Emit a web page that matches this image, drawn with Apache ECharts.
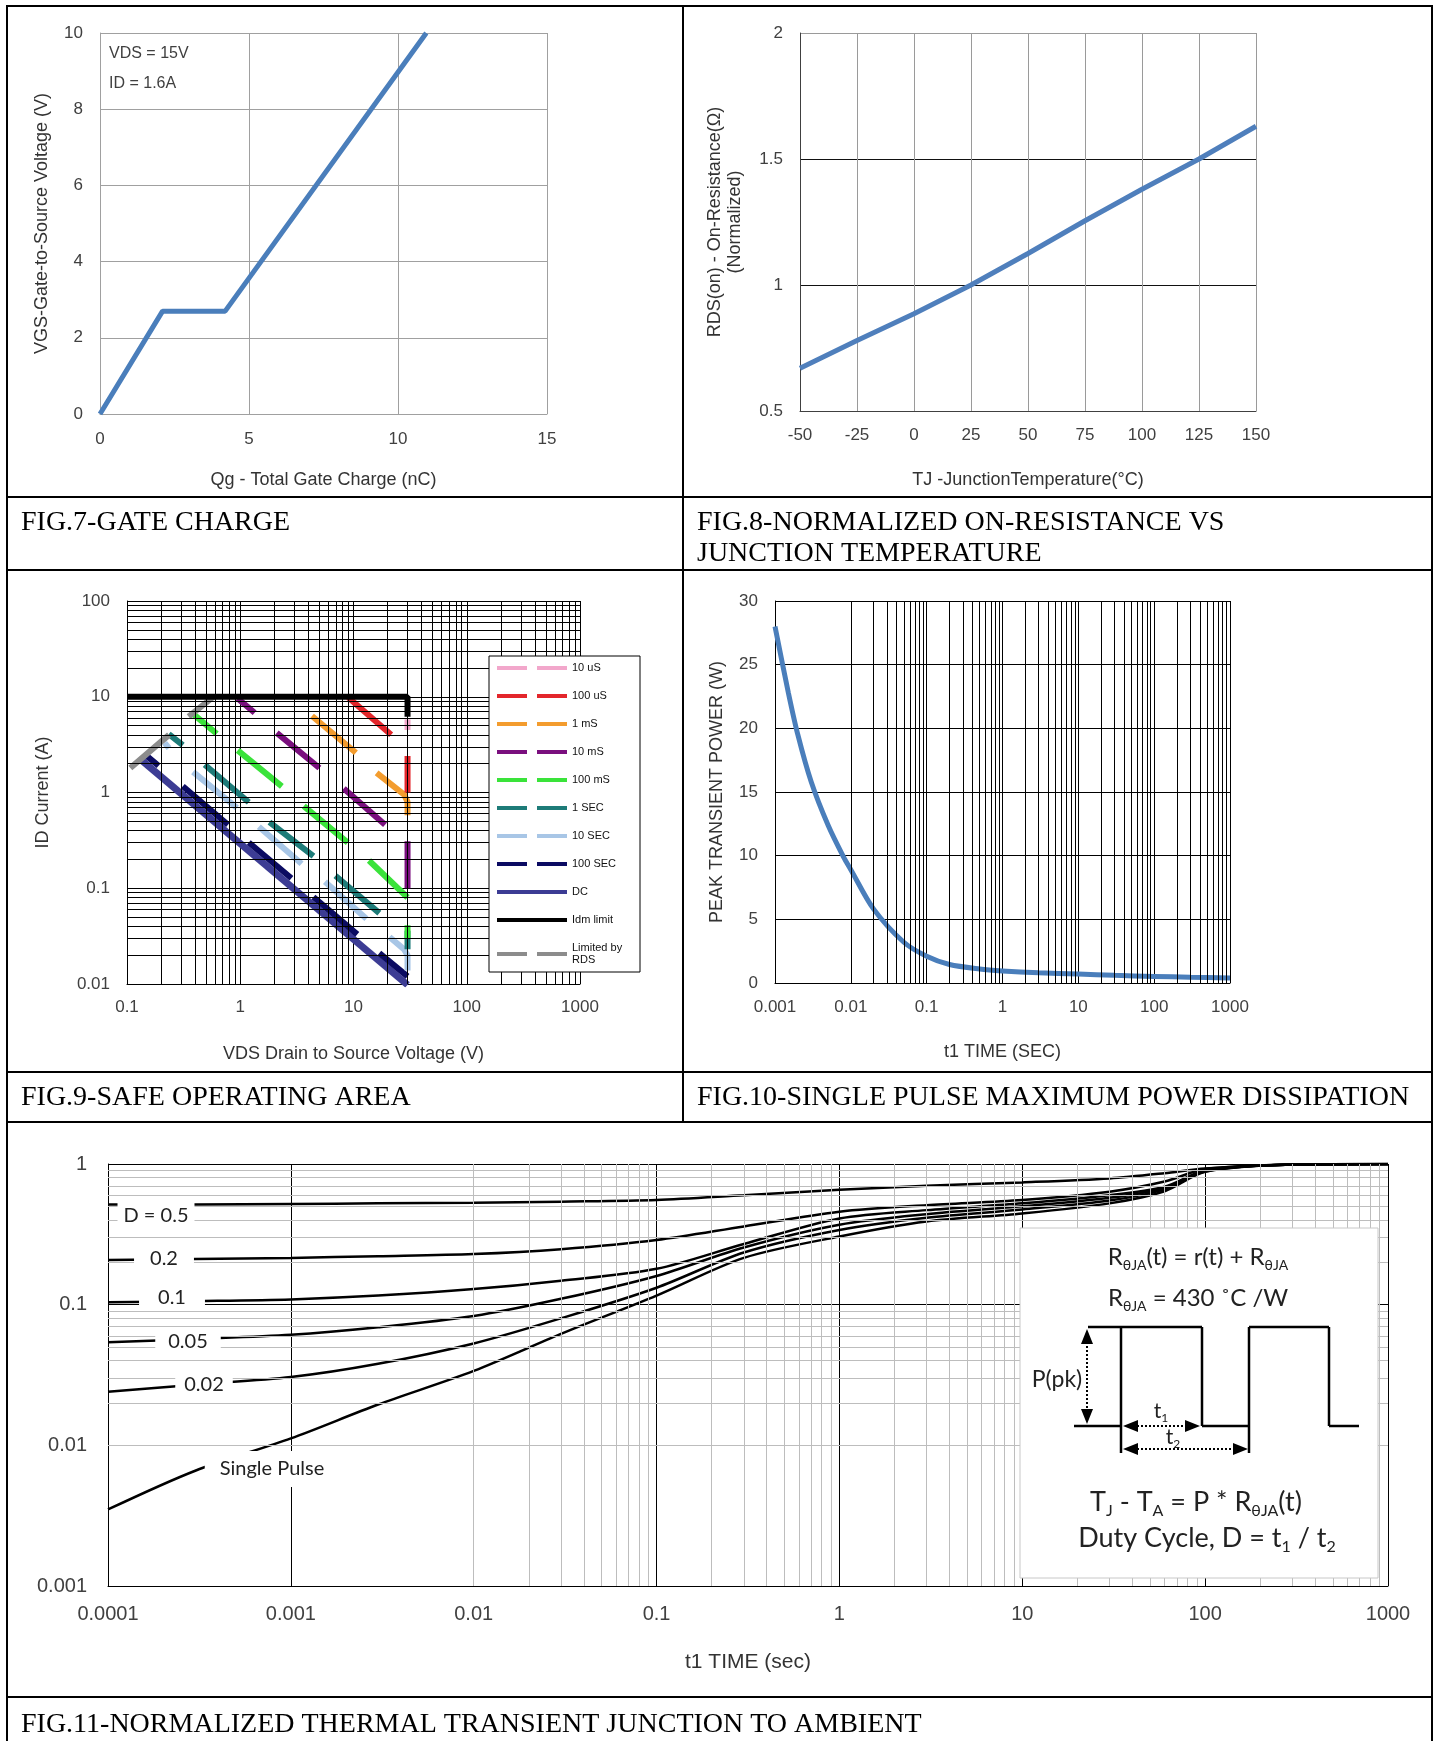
<!DOCTYPE html>
<html>
<head>
<meta charset="utf-8">
<title>Typical Characteristics</title>
<script src="https://cdn.jsdelivr.net/npm/echarts@6/dist/echarts.min.js"></script>
<style>
html, body { margin: 0; padding: 0; background: #fff; }
#chart { width: 1437px; height: 1741px; }
</style>
</head>
<body>
<div id="chart"></div>
<script>
const SANS = '"Liberation Sans", Arial, sans-serif';
const SERIF = '"Liberation Serif", "Times New Roman", serif';
const CAL = 'Lato, "Open Sans", sans-serif';

// FIG.7 gate charge
const gateCharge = [0, 2.1, 4.2, 10.95];
const gateVoltage = [0, 2.7, 2.7, 10];

// FIG.8 normalized on-resistance
const junctionTemp = [-50, -25, 0, 25, 50, 75, 100, 125, 150];
const rdsOnNorm = [0.67, 0.78, 0.886, 1.0, 1.125, 1.255, 1.38, 1.5, 1.63];

// FIG.9 safe operating area, every curve is a list of dashes of [VDS, ID]
const soa10us = [[[30, 5.8], [30, 4.5]]];
const soa100us = [[[9, 9.8], [21.5, 4]], [[30, 2.4], [30, 1.0]]];
const soa1ms = [[[4.3, 6.3], [10.5, 2.6]], [[16, 1.6], [28, 0.95], [30, 0.8], [30, 0.58]]];
const soa10ms = [[[0.95, 9.6], [1.34, 6.8]], [[2.1, 4.2], [5, 1.8]], [[8.2, 1.1], [19, 0.46]], [[30, 0.31], [30, 0.1]]];
const soa100ms = [[[0.39, 6.5], [0.62, 4.1]], [[0.95, 2.75], [2.33, 1.16]], [[3.64, 0.72], [8.9, 0.3]], [[13.7, 0.195], [30, 0.08]], [[30, 0.041], [30, 0.03]]];
const soa1s = [[[0.234, 4.06], [0.311, 3.13]], [[0.486, 1.95], [1.19, 0.79]], [[1.81, 0.49], [4.43, 0.217]], [[6.93, 0.135], [16.9, 0.055]], [[30, 0.036], [30, 0.023]]];
const soa10s = [[[0.215, 3.3], [0.235, 2.9]], [[0.383, 1.64], [0.935, 0.69]], [[1.46, 0.44], [3.48, 0.18]], [[5.6, 0.117], [13, 0.048]], [[20.8, 0.031], [28, 0.023], [30, 0.02], [30, 0.0138]]];
const soa100s = [[[0.15, 2.4], [0.19, 1.9]], [[0.311, 1.16], [0.78, 0.46]], [[1.19, 0.3], [2.83, 0.127]], [[4.43, 0.081], [10.8, 0.033]], [[16.9, 0.021], [30, 0.012]]];
const soaDc = [[[0.133, 2.2], [30, 0.0098]]];
const soaIdm = [[[0.1, 10], [30, 10], [30, 6.2]]];
const soaRds = [[[0.107, 1.8], [0.235, 4.0]], [[0.35, 6.2], [0.58, 10]]];

const soaNames = ['10 uS', '100 uS', '1 mS', '10 mS', '100 mS', '1 SEC', '10 SEC', '100 SEC', 'DC', 'Idm limit', 'Limited by RDS'];
const soaColors = ['#f2a7cb', '#e3262b', '#f39c2e', '#7a0f7e', '#3ae33a', '#1d7b78', '#a8c6e6', '#0b0b62', '#3c3c94', '#000000', '#8c8c8c'];
const soaCurves = [soa10us, soa100us, soa1ms, soa10ms, soa100ms, soa1s, soa10s, soa100s, soaDc, soaIdm, soaRds];
const soaDrawOrder = [8, 7, 6, 5, 4, 3, 2, 1, 0, 10, 9];

// FIG.10 single pulse power
const pulseTime = [0.001, 0.0015, 0.002, 0.003, 0.005, 0.008, 0.01, 0.02, 0.05, 0.1, 0.2, 0.5, 1, 3, 10, 30, 100, 300, 1000];
const pulsePower = [28, 22.8, 19.5, 15.8, 12.4, 9.9, 8.9, 5.8, 3.2, 2.1, 1.45, 1.1, 0.95, 0.8, 0.7, 0.6, 0.52, 0.45, 0.4];

// FIG.11 normalized thermal transient
const zthTime = [0.0001, 0.0003, 0.001, 0.003, 0.01, 0.03, 0.1, 0.3, 1, 3, 10, 30, 60, 100, 300, 1000];
const zthD05 = [0.515, 0.515, 0.52, 0.525, 0.53, 0.54, 0.555, 0.6, 0.655, 0.7, 0.74, 0.79, 0.86, 0.93, 0.99, 1.0];
const zthD02 = [0.208, 0.211, 0.215, 0.221, 0.229, 0.248, 0.288, 0.36, 0.458, 0.51, 0.555, 0.635, 0.75, 0.92, 0.99, 1.0];
const zthD01 = [0.104, 0.106, 0.109, 0.116, 0.129, 0.148, 0.18, 0.27, 0.41, 0.47, 0.525, 0.6, 0.69, 0.9, 0.99, 1.0];
const zthD005 = [0.054, 0.057, 0.061, 0.069, 0.083, 0.11, 0.16, 0.255, 0.37, 0.44, 0.5, 0.575, 0.675, 0.89, 0.99, 1.0];
const zthD002 = [0.024, 0.027, 0.0306, 0.038, 0.053, 0.08, 0.132, 0.235, 0.34, 0.415, 0.475, 0.55, 0.66, 0.885, 0.99, 1.0];
const zthSingle = [0.0035, 0.0066, 0.0112, 0.0195, 0.0338, 0.062, 0.116, 0.215, 0.305, 0.39, 0.445, 0.525, 0.64, 0.88, 0.99, 1.0];

function pairs(xs, ys) {
  return xs.map(function (x, i) { return [x, ys[i]]; });
}
function dashes(segs) {
  const out = [];
  segs.forEach(function (s, i) {
    if (i > 0) out.push(['-', '-']);
    s.forEach(function (p) { out.push(p); });
  });
  return out;
}
// 2..9 lines inside each decade
function minors(e0, e1) {
  const v = [];
  for (let e = e0; e < e1; e++) {
    for (let m = 2; m <= 9; m++) v.push(+(m * Math.pow(10, e)).toPrecision(3));
  }
  return v;
}
function logLabel(v) {
  return String(+(+v).toPrecision(3));
}
function gridLines(idx, xs, ys, color, corner) {
  return {
    type: 'line', xAxisIndex: idx, yAxisIndex: idx, data: [corner], symbol: 'none',
    silent: true, z: 1,
    markLine: {
      silent: true, symbol: ['none', 'none'], label: { show: false }, animation: false,
      emphasis: { disabled: true },
      lineStyle: { color: color, width: 1, type: 'solid' },
      data: xs.map(function (v) { return { xAxis: v }; }).concat(ys.map(function (v) { return { yAxis: v }; }))
    }
  };
}
function axis(o) {
  const a = {
    gridIndex: o.grid, type: o.log ? 'log' : 'value', min: o.min, max: o.max,
    name: o.name || '', nameLocation: 'middle', nameGap: o.nameGap || 0, nameRotate: o.rotate || 0,
    nameMoveOverlap: false,
    nameTextStyle: { fontFamily: SANS, fontSize: o.nameSize || 18, color: '#333', lineHeight: 20 },
    axisLine: { show: true, onZero: false, lineStyle: { color: o.axisColor, width: 1 } },
    axisTick: { show: false },
    axisLabel: { fontFamily: SANS, fontSize: o.labelSize || 17, color: '#404040', margin: o.margin || 16, showMinLabel: true, showMaxLabel: true },
    splitLine: { show: true, lineStyle: { color: o.splitColor, width: 1 } }
  };
  if (o.log) { a.logBase = 10; a.axisLabel.formatter = logLabel; }
  if (o.interval) a.interval = o.interval;
  return a;
}

const chart = echarts.init(document.getElementById('chart'));

const series = [];
// FIG.7
series.push({
  type: 'line', xAxisIndex: 0, yAxisIndex: 0, data: pairs(gateCharge, gateVoltage),
  symbol: 'none', lineStyle: { color: '#4a7ebb', width: 5 }, z: 3
});
// FIG.8
series.push({
  type: 'line', xAxisIndex: 1, yAxisIndex: 1, data: pairs(junctionTemp, rdsOnNorm),
  symbol: 'none', lineStyle: { color: '#4f7fbc', width: 5 }, z: 3
});
// FIG.9
series.push(gridLines(2, minors(-1, 3), minors(-2, 2), '#000', [0.1, 0.01]));
soaDrawOrder.forEach(function (i) {
  series.push({
    name: soaNames[i], type: 'line', xAxisIndex: 2, yAxisIndex: 2, data: dashes(soaCurves[i]),
    symbol: 'none', connectNulls: false, color: soaColors[i],
    itemStyle: { color: soaColors[i] },
    lineStyle: { color: soaColors[i], width: i === 8 ? 7 : 6, cap: 'butt' }, z: 3
  });
});
// FIG.10
series.push(gridLines(3, minors(-3, 3), [], '#000', [0.001, 0]));
series.push({
  type: 'line', xAxisIndex: 3, yAxisIndex: 3, data: pairs(pulseTime, pulsePower), smooth: 0.3,
  symbol: 'none', lineStyle: { color: '#4a7ebb', width: 5 }, z: 3
});
// FIG.11
series.push(gridLines(4, minors(-4, 3), minors(-3, 0), '#bdbdbd', [0.0001, 0.001]));
[zthD05, zthD02, zthD01, zthD005, zthD002, zthSingle].forEach(function (ys) {
  series.push({
    type: 'line', xAxisIndex: 4, yAxisIndex: 4, data: pairs(zthTime, ys), smooth: 0.3,
    symbol: 'none', lineStyle: { color: '#000', width: 2.5 }, z: 3
  });
});

function caption(x, y, text) {
  return { type: 'text', x: x, y: y, z: 100,
    style: { text: text, fontFamily: SERIF, fontSize: 28, fill: '#000', align: 'left', verticalAlign: 'middle' } };
}
function hline(x1, x2, y, w) {
  return { type: 'line', z: 100, shape: { x1: x1, y1: y, x2: x2, y2: y }, style: { stroke: '#000', lineWidth: w || 2 } };
}
function vline(x, y1, y2, w) {
  return { type: 'line', z: 100, shape: { x1: x, y1: y1, x2: x, y2: y2 }, style: { stroke: '#000', lineWidth: w || 2 } };
}
function note(x, y, text, padX, padY) {
  return { type: 'text', x: x, y: y, z: 20,
    style: { text: text, fontFamily: CAL, fontSize: 20, fill: '#222', align: 'center', verticalAlign: 'middle',
      backgroundColor: '#fff', padding: [padY || 3, padX] } };
}
function tri(points) {
  return { type: 'polygon', z: 62, shape: { points: points }, style: { fill: '#000' } };
}
function dotted(x1, y1, x2, y2) {
  return { type: 'line', z: 61, shape: { x1: x1, y1: y1, x2: x2, y2: y2 }, style: { stroke: '#000', lineWidth: 2, lineDash: [2, 2] } };
}
function seg(x1, y1, x2, y2) {
  return { type: 'line', z: 61, shape: { x1: x1, y1: y1, x2: x2, y2: y2 }, style: { stroke: '#000', lineWidth: 2.5 } };
}
function richText(x, y, text, size) {
  const s = size || 24;
  return { type: 'text', x: x, y: y, z: 62,
    style: { text: text, align: 'center', verticalAlign: 'middle',
      rich: {
        n: { fontFamily: CAL, fontSize: s, lineHeight: Math.round(s * 1.25), fill: '#222' },
        s: { fontFamily: CAL, fontSize: Math.round(s * 0.58), lineHeight: Math.round(s * 0.58), verticalAlign: 'bottom', fill: '#222' }
      } } };
}

const graphic = [
  { type: 'rect', z: 100, shape: { x: 7, y: 6, width: 1425, height: 1780 }, style: { fill: 'none', stroke: '#000', lineWidth: 2 } },
  vline(683, 6, 1122),
  hline(7, 1432, 497), hline(7, 1432, 570), hline(7, 1432, 1072), hline(7, 1432, 1122), hline(7, 1432, 1697),
  caption(21, 523, 'FIG.7-GATE CHARGE'),
  caption(697, 523, 'FIG.8-NORMALIZED ON-RESISTANCE VS'),
  caption(697, 554, 'JUNCTION TEMPERATURE'),
  caption(21, 1098, 'FIG.9-SAFE OPERATING AREA'),
  caption(697, 1098, 'FIG.10-SINGLE PULSE MAXIMUM POWER DISSIPATION'),
  caption(21, 1725, 'FIG.11-NORMALIZED THERMAL TRANSIENT JUNCTION TO AMBIENT'),
  { type: 'text', x: 109, y: 54, z: 20, style: { text: 'VDS = 15V', fontFamily: SANS, fontSize: 16, fill: '#404040', verticalAlign: 'middle' } },
  { type: 'text', x: 109, y: 84, z: 20, style: { text: 'ID = 1.6A', fontFamily: SANS, fontSize: 16, fill: '#404040', verticalAlign: 'middle' } },
  note(156, 1216, 'D = 0.5', 6),
  note(164, 1259, '0.2', 16),
  note(172, 1298, '0.1', 19),
  note(188, 1342, '0.05', 13),
  note(204, 1385, '0.02', 9),
  note(272, 1469, 'Single Pulse', 15, 8),
  // inset
  { type: 'rect', z: 60, shape: { x: 1020, y: 1228, width: 358, height: 350 }, style: { fill: '#fff', stroke: '#c8c8c8', lineWidth: 1 } },
  richText(1198, 1257, '{n|R}{s|θJA}{n|(t) = r(t) + R}{s|θJA}', 24),
  richText(1198, 1298, '{n|R}{s|θJA}{n| = 430 ˚C /W}', 24),
  seg(1074, 1426, 1121, 1426), seg(1121, 1327, 1121, 1453), seg(1088, 1327, 1202, 1327),
  seg(1202, 1327, 1202, 1426), seg(1202, 1426, 1249, 1426), seg(1249, 1327, 1249, 1453),
  seg(1249, 1327, 1329, 1327), seg(1329, 1327, 1329, 1426), seg(1329, 1426, 1359, 1426),
  dotted(1087, 1342, 1087, 1410),
  tri([[1087, 1329], [1081, 1344], [1093, 1344]]), tri([[1087, 1424], [1081, 1409], [1093, 1409]]),
  dotted(1137, 1426, 1186, 1426),
  tri([[1123, 1426], [1138, 1420], [1138, 1432]]), tri([[1200, 1426], [1185, 1420], [1185, 1432]]),
  dotted(1137, 1449, 1234, 1449),
  tri([[1123, 1449], [1138, 1443], [1138, 1455]]), tri([[1248, 1449], [1233, 1443], [1233, 1455]]),
  { type: 'text', x: 1057, y: 1380, z: 62, style: { text: 'P(pk)', fontFamily: CAL, fontSize: 23, fill: '#222', align: 'center', verticalAlign: 'middle' } },
  richText(1161, 1411, '{n|t}{s|1}', 21),
  richText(1173, 1437, '{n|t}{s|2}', 21),
  richText(1196, 1502, '{n|T}{s|J}{n| - T}{s|A}{n| = P * R}{s|θJA}{n|(t)}', 27),
  richText(1207, 1538, '{n|Duty Cycle, D = t}{s|1}{n| / t}{s|2}', 27)
];

const option = {
  animation: false,
  backgroundColor: '#fff',
  grid: [
    { left: 100, top: 33, width: 447, height: 381, outerBoundsMode: 'none' },
    { left: 800, top: 33, width: 456, height: 378, outerBoundsMode: 'none' },
    { left: 127, top: 601, width: 453, height: 383, outerBoundsMode: 'none' },
    { left: 775, top: 601, width: 455, height: 382, outerBoundsMode: 'none' },
    { left: 108, top: 1164, width: 1280, height: 422, outerBoundsMode: 'none' }
  ],
  xAxis: [
    axis({ grid: 0, min: 0, max: 15, interval: 5, axisColor: '#a0a0a0', splitColor: '#a0a0a0', name: 'Qg - Total Gate Charge (nC)', nameGap: 56, margin: 17 }),
    axis({ grid: 1, min: -50, max: 150, interval: 25, axisColor: '#404040', splitColor: '#9a9a9a', name: 'TJ -JunctionTemperature(°C)', nameGap: 59, margin: 16 }),
    axis({ grid: 2, log: true, min: 0.1, max: 1000, axisColor: '#000', splitColor: '#000', name: 'VDS Drain to Source Voltage (V)', nameGap: 60, margin: 15 }),
    axis({ grid: 3, log: true, min: 0.001, max: 1000, axisColor: '#000', splitColor: '#000', name: 't1 TIME (SEC)', nameGap: 59, margin: 16 }),
    axis({ grid: 4, log: true, min: 0.0001, max: 1000, axisColor: '#000', splitColor: '#000', name: 't1 TIME (sec)', nameGap: 66, margin: 18, labelSize: 20, nameSize: 21 })
  ],
  yAxis: [
    axis({ grid: 0, min: 0, max: 10, interval: 2, axisColor: '#a0a0a0', splitColor: '#a0a0a0', name: 'VGS-Gate-to-Source Voltage (V)', nameGap: 48, rotate: 90, margin: 17 }),
    axis({ grid: 1, min: 0.5, max: 2, interval: 0.5, axisColor: '#404040', splitColor: ['#9a9a9a', '#111', '#111', '#9a9a9a'], name: 'RDS(on) - On-Resistance(Ω)\n(Normalized)', nameGap: 55, rotate: 90, margin: 17 }),
    axis({ grid: 2, log: true, min: 0.01, max: 100, axisColor: '#000', splitColor: '#000', name: 'ID Current (A)', nameGap: 74, rotate: 90, margin: 17 }),
    axis({ grid: 3, min: 0, max: 30, interval: 5, axisColor: '#000', splitColor: '#000', name: 'PEAK TRANSIENT POWER (W)', nameGap: 48, rotate: 90, margin: 17 }),
    axis({ grid: 4, log: true, min: 0.001, max: 1, axisColor: '#000', splitColor: '#000', margin: 21, labelSize: 20 })
  ],
  legend: {
    orient: 'vertical', left: 489, top: 656, padding: [6, 8, 6, 8], itemGap: 16,
    itemWidth: 70, itemHeight: 5, backgroundColor: '#fff', borderColor: '#000', borderWidth: 1,
    selectedMode: false, z: 10,
    textStyle: { fontFamily: SANS, fontSize: 11, color: '#111', width: 60, lineHeight: 12 },
    formatter: function (name) { return name === 'Limited by RDS' ? 'Limited by\nRDS' : name; },
    data: soaNames.map(function (n) {
      const solid = n === 'DC' || n === 'Idm limit';
      return { name: n, icon: solid ? 'path://M0,0H70V4H0Z' : 'path://M0,0H30V4H0ZM40,0H70V4H40Z' };
    })
  },
  graphic: graphic,
  series: series
};
chart.setOption(option);
</script>
</body>
</html>
